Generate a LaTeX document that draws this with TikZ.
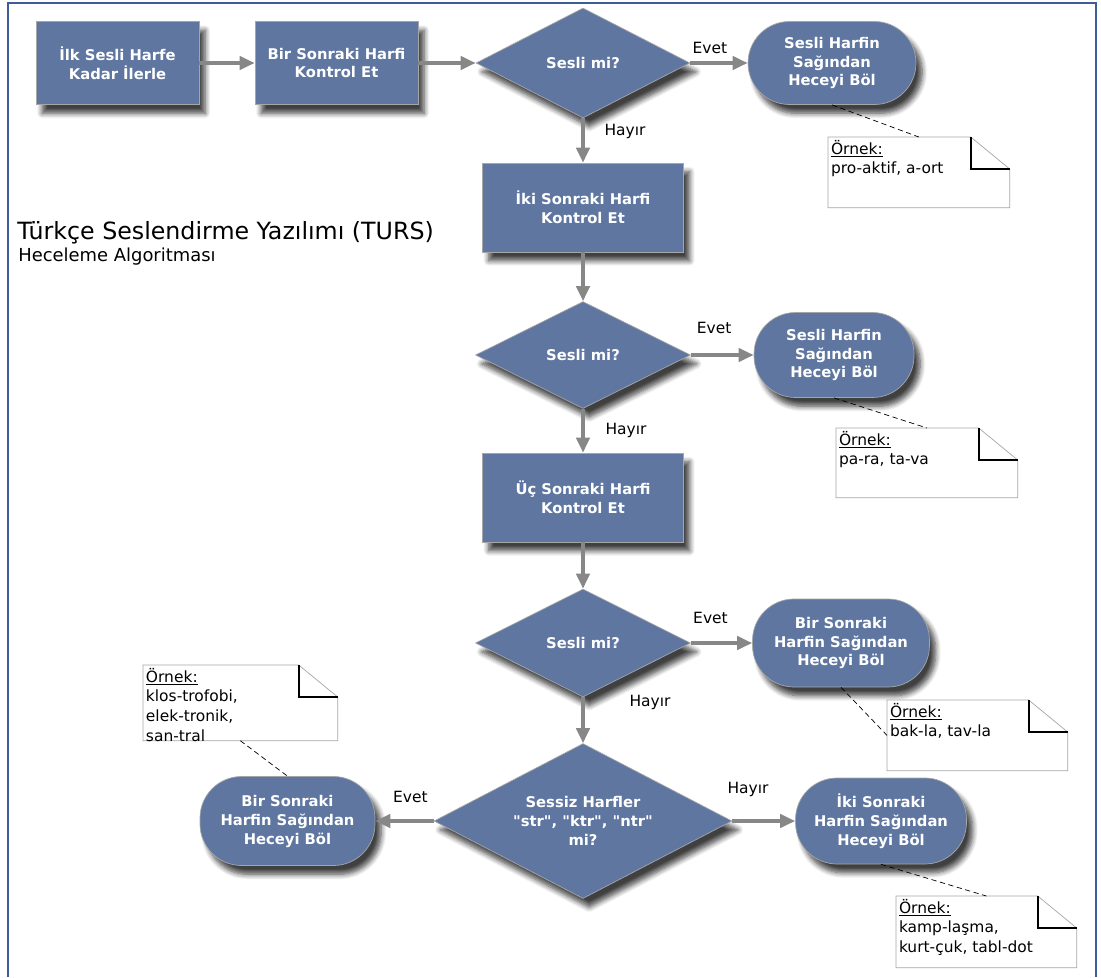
\documentclass[tikz,border=0pt]{standalone}
\usepackage{fontspec}
\setmainfont{DejaVu Sans}
\usetikzlibrary{shapes.geometric,shadows.blur,arrows.meta}
\definecolor{boxblue}{RGB}{94,118,160}
\definecolor{frameblue}{RGB}{62,92,150}
\definecolor{flowgray}{RGB}{135,135,135}

\begin{document}
\begin{tikzpicture}[
            x=0.02cm, y=-0.02cm,
            box/.style={
                fill=boxblue, draw=gray!70, text=white, align=center,
                font=\fontsize{8.4}{10.8}\selectfont\bfseries,
                blur shadow={shadow xshift=3.5pt, shadow yshift=-5pt,
                    shadow opacity=75, shadow blur steps=7, shadow blur radius=3pt}
            },
            process/.style={box, rectangle, minimum width=#1, minimum height=1.66cm},
            decision/.style={box, diamond, aspect=2, inner sep=0pt},
            terminal/.style={box, rectangle, rounded corners=0.83cm, minimum height=1.7cm},
            note/.style={anchor=north west, inner sep=0pt, fill=white},
            notetext/.style={anchor=north west, align=left, inner sep=1.5pt,
                font=\fontsize{8.8}{11.2}\selectfont},
            flow/.style={draw=flowgray, line width=2pt, -{Triangle[length=8.5pt,width=7.5pt]}},
            link/.style={densely dashed, thin},
            lbl/.style={font=\fontsize{8.8}{11}\selectfont, inner sep=0pt}
        ]
        \useasboundingbox (0,0) rectangle (1101,977);
        \draw[frameblue, line width=1.2pt] (8,977) -- (8,3) -- (1096,3) -- (1096,977);

        % --- Title ---
        \node[anchor=west, inner sep=0pt, font=\fontsize{13.5}{16}\selectfont] (title) at (17,233)
        {Türkçe Seslendirme Yazılımı (TURS)};
        \node[anchor=west, inner sep=0pt, font=\fontsize{10.2}{12}\selectfont] (subtitle) at (18,257)
        {Heceleme Algoritması};

        % --- Top row ---
        \node[process=3.26cm] (ilk) at (117.5,63) {İlk Sesli Harfe\\Kadar İlerle};
        \node[process=3.26cm] (bir) at (336.5,63) {Bir Sonraki Harfi\\Kontrol Et};
        \node[decision, minimum width=4.28cm, minimum height=2.2cm] (d1) at (583,63) {Sesli mi?};
        \node[terminal, minimum width=3.36cm, minimum height=1.66cm] (t1) at (832,63)
        {Sesli Harfin\\Sağından\\Heceyi Böl};

        % --- Middle column ---
        \node[process=4.02cm, minimum height=1.78cm] (iki) at (583,207.5) {İki Sonraki Harfi\\Kontrol Et};
        \node[decision, minimum width=4.3cm, minimum height=2.14cm] (d2) at (583,355) {Sesli mi?};
        \node[terminal, minimum width=3.2cm] (t2) at (834,355) {Sesli Harfin\\Sağından\\Heceyi Böl};
        \node[process=4.02cm, minimum height=1.78cm] (uc) at (583,497.5) {Üç Sonraki Harfi\\Kontrol Et};
        \node[decision, minimum width=4.3cm, minimum height=2.16cm] (d3) at (583,643) {Sesli mi?};
        \node[terminal, minimum width=3.54cm, minimum height=1.76cm] (t3) at (841,643)
        {Bir Sonraki\\Harfin Sağından\\Heceyi Böl};

        % --- Bottom row ---
        \node[decision, minimum width=5.96cm, minimum height=3.1cm] (d4) at (583,821)
        {Sessiz Harfler\\\textquotedbl str\textquotedbl, \textquotedbl ktr\textquotedbl, \textquotedbl ntr\textquotedbl\\mi?};
        \node[terminal, minimum width=3.5cm, minimum height=1.78cm] (tl) at (287.5,821)
        {Bir Sonraki\\Harfin Sağından\\Heceyi Böl};
        \node[terminal, minimum width=3.42cm, minimum height=1.72cm] (tr) at (881,821)
        {İki Sonraki\\Harfin Sağından\\Heceyi Böl};

        % --- Notes ---
        \node[note, minimum width=3.62cm, minimum height=1.4cm] (n1) at (828,137) {};
        \node[note, minimum width=3.62cm, minimum height=1.38cm] (n2) at (836,428) {};
        \node[note, minimum width=3.6cm, minimum height=1.4cm] (n3) at (887,700) {};
        \node[note, minimum width=3.88cm, minimum height=1.5cm] (n4) at (143,665) {};
        \node[note, minimum width=3.6cm, minimum height=1.42cm] (n5) at (896,896) {};
        \foreach \n in {n1,n2,n3,n4,n5}{
            \draw[gray!70] (\n.north west) -- ([xshift=-0.78cm]\n.north east)
                -- ([yshift=-0.64cm]\n.north east) -- (\n.south east) -- (\n.south west) -- cycle;
            \draw[line width=1.2pt] ([xshift=-0.78cm]\n.north east) |- ([yshift=-0.64cm]\n.north east);
        }
        \node[notetext] (n1t) at (n1.north west) {\underline{Örnek:}\\pro-aktif, a-ort};
        \node[notetext] (n2t) at (n2.north west) {\underline{Örnek:}\\pa-ra, ta-va};
        \node[notetext] (n3t) at (n3.north west) {\underline{Örnek:}\\bak-la, tav-la};
        \node[notetext] (n4t) at (n4.north west) {\underline{Örnek:}\\klos-trofobi,\\elek-tronik,\\san-tral};
        \node[notetext] (n5t) at (n5.north west) {\underline{Örnek:}\\kamp-laşma,\\kurt-çuk, tabl-dot};

        % --- Connectors ---
        \draw[flow] (ilk) -- (bir);
        \draw[flow] (bir) -- (d1);
        \draw[flow] (d1) -- node[lbl, pos=.34, yshift=0.3cm] {Evet} (t1);
        \draw[flow] (d1) -- node[lbl, pos=.3, xshift=0.84cm] {Hayır} (iki);
        \draw[flow] (iki) -- (d2);
        \draw[flow] (d2) -- node[lbl, pos=.37, yshift=0.54cm] {Evet} (t2);
        \draw[flow] (d2) -- node[lbl, pos=.5, xshift=0.86cm] {Hayır} (uc);
        \draw[flow] (uc) -- (d3);
        \draw[flow] (d3) -- node[lbl, pos=.32, yshift=0.5cm] {Evet} (t3);
        \draw[flow] (d3) -- node[lbl, pos=.12, xshift=1.34cm] {Hayır} (d4);
        \draw[flow] (d4) -- node[lbl, pos=.4, yshift=0.48cm] {Evet} (tl);
        \draw[flow] (d4) -- node[lbl, pos=.25, yshift=0.64cm] {Hayır} (tr);

        % --- Note links ---
        \draw[link] (t1.south) -- (n1.north);
        \draw[link] (t2.south) -- (n2.north);
        \draw[link] (t3.south) -- (n3.west);
        \draw[link] (tr.south) -- (n5.north);
        \draw[link] (n4.south) -- (tl.north);

    \end{tikzpicture}
\end{document}
